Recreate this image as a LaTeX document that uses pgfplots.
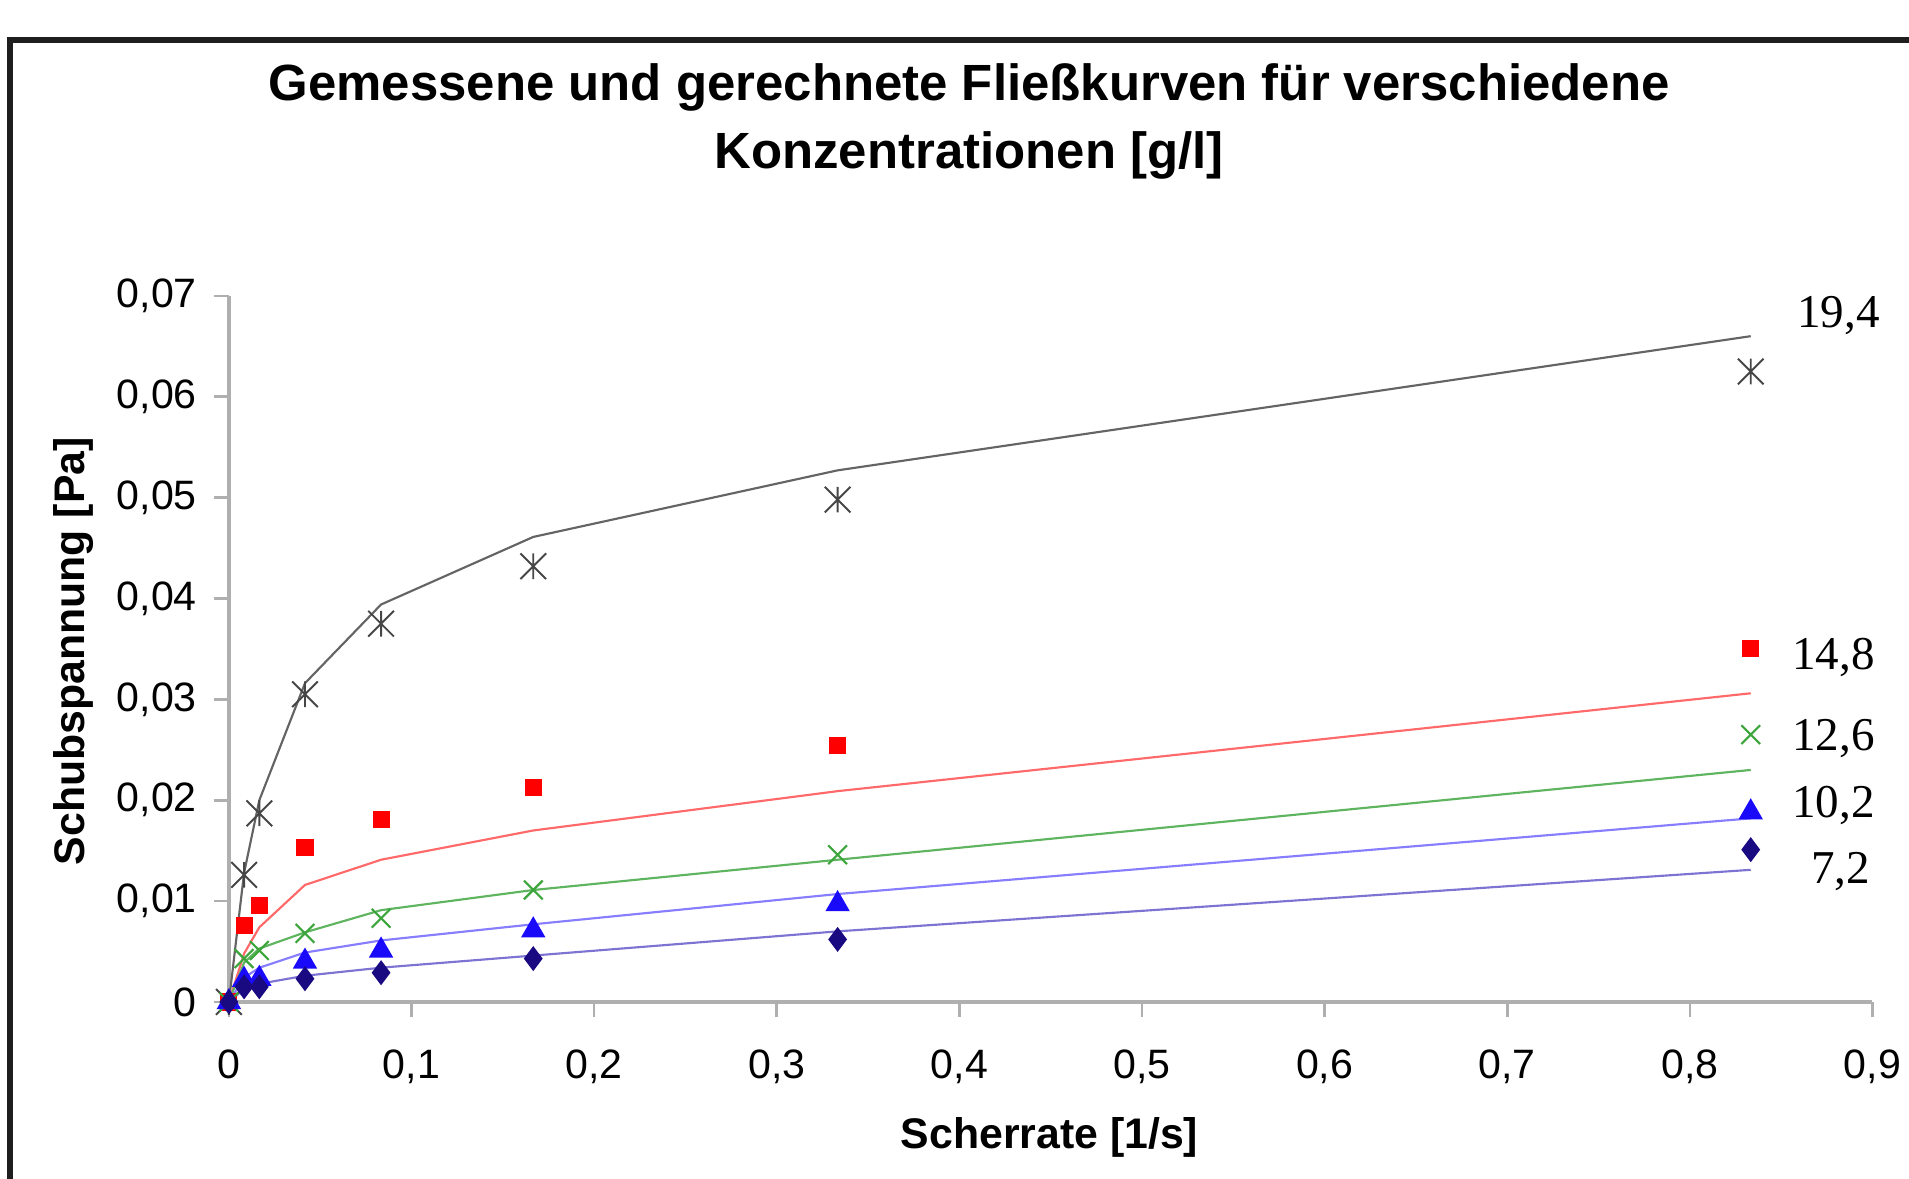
\documentclass[border=0pt]{standalone}
\usepackage{pgfplots}
\pgfplotsset{compat=1.18}
\usepackage{fontspec}
\setmainfont{Liberation Sans}
\newfontfamily\seriffont{Liberation Serif}
\definecolor{mblack}{RGB}{70,70,70}
\definecolor{lblack}{RGB}{100,100,100}
\definecolor{mred}{RGB}{255,0,0}
\definecolor{lred}{RGB}{255,105,105}
\definecolor{mgreen}{RGB}{60,165,60}
\definecolor{lgreen}{RGB}{95,180,95}
\definecolor{mblue}{RGB}{25,10,250}
\definecolor{lblue}{RGB}{135,125,255}
\definecolor{mnavy}{RGB}{25,10,130}
\definecolor{lnavy}{RGB}{125,115,210}
\definecolor{axgray}{RGB}{175,175,175}

\pgfdeclareplotmark{xstar}{%
  \pgfpathmoveto{\pgfqpoint{-\pgfplotmarksize}{-\pgfplotmarksize}}%
  \pgfpathlineto{\pgfqpoint{\pgfplotmarksize}{\pgfplotmarksize}}%
  \pgfpathmoveto{\pgfqpoint{-\pgfplotmarksize}{\pgfplotmarksize}}%
  \pgfpathlineto{\pgfqpoint{\pgfplotmarksize}{-\pgfplotmarksize}}%
  \pgfpathmoveto{\pgfqpoint{0pt}{-\pgfplotmarksize}}%
  \pgfpathlineto{\pgfqpoint{0pt}{\pgfplotmarksize}}%
  \pgfusepathqstroke}

\pgfplotstableread{
x m194 m148 m126 m102 m72
0       0      0      0      0      0
0.00833 0.0126 0.0076 0.0043 0.0022 0.0015
0.01667 0.0187 0.0096 0.0051 0.0023 0.0015
0.04167 0.0305 0.0153 0.0068 0.0040 0.0023
0.08333 0.0375 0.0181 0.0083 0.0051 0.0029
0.16667 0.0432 0.0213 0.0111 0.0071 0.0043
0.33333 0.0498 0.0254 0.0146 0.0097 0.0062
0.83333 0.0625 0.0350 0.0265 0.0188 0.0151
}\measured

\pgfplotstableread{
x c194 c148 c126 c102 c72
0       0      0      0      0      0
0.00833 0.0128 0.0048 0.0039 0.0024 0.0013
0.01667 0.0200 0.0074 0.0053 0.0034 0.0018
0.04167 0.0316 0.0116 0.0069 0.0049 0.0026
0.08333 0.0394 0.0141 0.0091 0.0061 0.0034
0.16667 0.0461 0.0170 0.0111 0.0077 0.0046
0.33333 0.0527 0.0209 0.0141 0.0107 0.0070
0.83333 0.0660 0.0306 0.0230 0.0182 0.0131
}\calculated

\begin{document}
\begin{tikzpicture}[x=1cm,y=1cm]
\path[use as bounding box] (0,0) rectangle (15.68,9.68);
\draw[line width=1.3pt, color=black!88] (0.08,-1) -- (0.08,9.35) -- (17,9.35);
\node[font=\bfseries\fontsize{11.9}{14}\selectfont] at (7.96,8.96) {Gemessene und gerechnete Fließkurven für verschiedene};
\node[font=\bfseries\fontsize{11.9}{14}\selectfont] at (7.96,8.40) {Konzentrationen [g/l]};
\begin{axis}[
  at={(1.88cm,1.45cm)}, anchor=south west,
  scale only axis, width=13.5cm, height=5.8cm,
  xmin=0, xmax=0.9, ymin=0, ymax=0.07,
  clip=false,
  axis lines*=left,
  axis line style={axgray, line width=0.9pt},
  tick style={axgray, line width=0.6pt},
  tick align=outside,
  major tick length=0.12cm,
  xtick={0,0.1,0.2,0.3,0.4,0.5,0.6,0.7,0.8,0.9},
  xticklabels={0,{0,1},{0,2},{0,3},{0,4},{0,5},{0,6},{0,7},{0,8},{0,9}},
  ytick={0,0.01,0.02,0.03,0.04,0.05,0.06,0.07},
  yticklabels={0,{0,01},{0,02},{0,03},{0,04},{0,05},{0,06},{0,07}},
  ticklabel style={font=\fontsize{9.6}{11}\selectfont},
  xticklabel style={yshift=-0.15cm},
  yticklabel style={xshift=-0.02cm},
  scaled ticks=false,
]
\addplot[lblack, line width=0.5pt] table[x=x,y=c194] {\calculated};
\addplot[lred, line width=0.5pt] table[x=x,y=c148] {\calculated};
\addplot[lgreen, line width=0.5pt] table[x=x,y=c126] {\calculated};
\addplot[lblue, line width=0.5pt] table[x=x,y=c102] {\calculated};
\addplot[lnavy, line width=0.5pt] table[x=x,y=c72] {\calculated};
\addplot[only marks, mark=xstar, mark size=3.0pt, mark options={mblack, line width=0.45pt}] table[x=x,y=m194] {\measured};
\addplot[only marks, mark=square*, mark size=1.8pt, mark options={mred, fill=mred}] table[x=x,y=m148] {\measured};
\addplot[only marks, mark=x, mark size=3.1pt, mark options={mgreen, line width=0.5pt}] table[x=x,y=m126] {\measured};
\addplot[only marks, mark=triangle*, mark size=2.9pt, mark options={mblue, fill=mblue}] table[x=x,y=m102] {\measured};
\addplot[only marks, mark=diamond*, mark size=2.6pt, mark options={mnavy, fill=mnavy}] table[x=x,y=m72] {\measured};
\end{axis}
\node[font=\bfseries\fontsize{10}{12}\selectfont, rotate=90] at (0.60,4.33) {Schubspannung [Pa]};
\node[font=\bfseries\fontsize{10}{12}\selectfont] at (8.62,0.34) {Scherrate [1/s]};
\node[font=\seriffont\fontsize{11}{13}\selectfont] at (15.10,7.09) {19,4};
\node[font=\seriffont\fontsize{11}{13}\selectfont] at (15.06,4.28) {14,8};
\node[font=\seriffont\fontsize{11}{13}\selectfont] at (15.06,3.61) {12,6};
\node[font=\seriffont\fontsize{11}{13}\selectfont] at (15.06,3.06) {10,2};
\node[font=\seriffont\fontsize{11}{13}\selectfont] at (15.12,2.52) {7,2};
\end{tikzpicture}
\end{document}
